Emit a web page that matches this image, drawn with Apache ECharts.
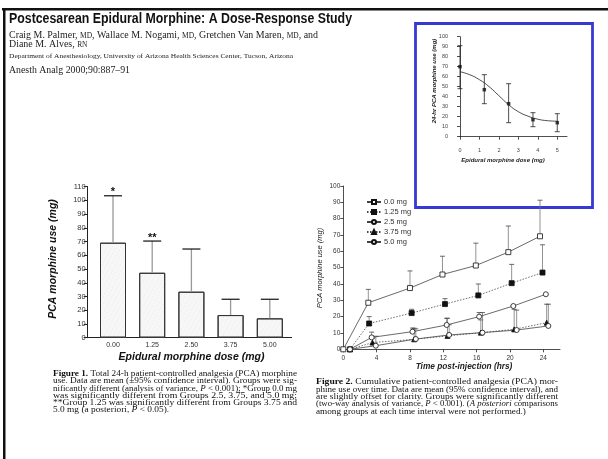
<!DOCTYPE html>
<html><head><meta charset="utf-8">
<script src="https://cdn.jsdelivr.net/npm/echarts@6/dist/echarts.min.js"></script>
<style>html,body{margin:0;padding:0;background:#fff}#c{width:608px;height:459px}</style>
</head><body><div id="c"></div>
<script>
// ---------- data ----------
const insetDoses = [0, 1.25, 2.5, 3.75, 5];
const insetMeans = [70, 47, 33, 17, 14];
const insetLow = [48, 33, 14, 10, 5];
const insetHigh = [91, 62, 53, 24, 23];
const insetCurveX = [0, 0.5, 1, 1.5, 2, 2.5, 3, 3.5, 4, 4.5, 5];
const insetCurveY = [65, 62, 57, 50, 41, 32, 25, 20.5, 17.5, 16, 15.5];
const insetXTicks = [0, 1, 2, 3, 4, 5];

const barCategories = ['0.00', '1.25', '2.50', '3.75', '5.00'];
const barMeans = [69.2, 47.3, 33.5, 16.5, 14.1];
const barUpper = [103.4, 70.4, 64.6, 28, 28];
const barMarks = ['*', '**', '', '', ''];

const seriesNames = ['0.0 mg', '1.25 mg', '2.5 mg', '3.75 mg', '5.0 mg'];
const hours00 = [0, 3.0, 8.0, 11.9, 15.9, 19.8, 23.6];
const use00 = [0, 28.5, 37.5, 45.8, 51.3, 59.5, 69.2];
const upper00 = [null, 36.7, 48, 57, 65, 75.5, 91.3];
const hours125 = [0.8, 3.1, 8.2, 12.2, 16.2, 20.2, 23.9];
const use125 = [0, 15.8, 22.2, 27.7, 33.0, 40.5, 47.0];
const upper125 = [null, 20, 24.5, 31, 40, 52, 64];
const hours25 = [0.8, 3.4, 8.3, 12.4, 16.3, 20.4, 24.3];
const use25 = [0, 7.3, 10.8, 14.9, 20, 26.5, 33.7];
const upper25 = [null, 10.5, 13, 19, 22.5, 26.5, 33.7];
const hours375 = [0.8, 3.5, 8.5, 12.5, 16.5, 20.5, 24.4];
const use375 = [0, 4.1, 6.1, 8.2, 10.2, 12.2, 16.3];
const upper375 = [null, 6.7, 12.9, 19, 18, 24.5, 27.6];
const hours50 = [0.8, 3.9, 8.7, 12.7, 16.7, 20.8, 24.6];
const use50 = [0, 2.2, 6.3, 8.8, 10.2, 11.8, 14.3];
const upper50 = [null, 8, 12.5, 15, 22.5, 24, 27.6];
const lineXTicks = [0, 4, 8, 12, 16, 20, 24];

// ---------- helpers ----------
const SANS = '"Liberation Sans", Arial, sans-serif';
const SERIF = '"Liberation Serif", "Times New Roman", serif';
const mctx = document.createElement('canvas').getContext('2d');
function tw(str, font) { mctx.font = font; return mctx.measureText(str).width; }

const capFontSize = 8.2;
const capStyles = {
  r: { fontFamily: SERIF, fontSize: capFontSize, fontWeight: 'normal', fontStyle: 'normal', fill: '#111', verticalAlign: 'bottom', lineHeight: 9 },
  b: { fontFamily: SERIF, fontSize: capFontSize, fontWeight: 'bold', fontStyle: 'normal', fill: '#111', verticalAlign: 'bottom', lineHeight: 9 },
  i: { fontFamily: SERIF, fontSize: capFontSize, fontWeight: 'normal', fontStyle: 'italic', fill: '#111', verticalAlign: 'bottom', lineHeight: 9 }
};
function segWidth(segs, styles) {
  let w = 0;
  segs.forEach(s => { const st = styles[s[1]]; w += tw(s[0], `${st.fontStyle} ${st.fontWeight} ${st.fontSize}px ${st.fontFamily}`); });
  return w;
}
function richText(segs) { return segs.map(s => `{${s[1]}|${s[0]}}`).join(''); }
function paragraph(lines, x, ys, target, styles) {
  const widths = lines.map(l => segWidth(l, styles));
  const scales = widths.map(w => target / w);
  const avg = scales.slice(0, -1).reduce((a, b) => a + b, 0) / (scales.length - 1);
  return lines.map((l, k) => ({
    type: 'text', x: x, y: ys[k], scaleX: k === lines.length - 1 ? avg : scales[k],
    style: { text: richText(l), rich: styles, align: 'left', verticalAlign: 'middle' }
  }));
}

const fig1Lines = [
  [['Figure 1.', 'b'], [' Total 24-h patient-controlled analgesia (PCA) morphine', 'r']],
  [['use. Data are mean (\u00b195% confidence interval). Groups were sig-', 'r']],
  [['nificantly different (analysis of variance, ', 'r'], ['P', 'i'], [' < 0.001); *Group 0.0 mg', 'r']],
  [['was significantly different from Groups 2.5, 3.75, and 5.0 mg;', 'r']],
  [['**Group 1.25 was significantly different from Groups 3.75 and', 'r']],
  [['5.0 mg (a posteriori, ', 'r'], ['P', 'i'], [' < 0.05).', 'r']]
];
const fig2Lines = [
  [['Figure 2.', 'b'], [' Cumulative patient-controlled analgesia (PCA) mor-', 'r']],
  [['phine use over time. Data are mean (95% confidence interval), and', 'r']],
  [['are slightly offset for clarity. Groups were significantly different', 'r']],
  [['(two-way analysis of variance, ', 'r'], ['P', 'i'], [' < 0.001). (', 'r'], ['A posteriori', 'i'], [' comparisons', 'r']],
  [['among groups at each time interval were not performed.)', 'r']]
];

const headStyles = {
  r: { fontFamily: SERIF, fontSize: 10, fontWeight: 'normal', fontStyle: 'normal', fill: '#222', verticalAlign: 'bottom', lineHeight: 11 },
  s: { fontFamily: SERIF, fontSize: 7.5, fontWeight: 'normal', fontStyle: 'normal', fill: '#222', verticalAlign: 'bottom', lineHeight: 11 }
};
const authors1 = [['Craig M. Palmer, ', 'r'], ['MD', 's'], [', Wallace M. Nogami, ', 'r'], ['MD', 's'], [', Gretchen Van Maren, ', 'r'], ['MD', 's'], [', and', 'r']];
const authors2 = [['Diane M. Alves, ', 'r'], ['RN', 's']];
const authScale = 309 / segWidth(authors1, headStyles);

const titleText = 'Postcesarean Epidural Morphine: A Dose-Response Study';
const titleFont = `bold 14px ${SANS}`;
const deptText = 'Department of Anesthesiology, University of Arizona Health Sciences Center, Tucson, Arizona';
const deptFont = `7px ${SERIF}`;
const citeText = 'Anesth Analg 2000;90:887\u201391';
const citeFont = `10px ${SERIF}`;

// error bar renderer
function errBar(capW, lineColor, capColor, lw, bothCaps, marks) {
  return function (params, api) {
    const x = api.value(0), lo = api.value(1), hi = api.value(2);
    const a = api.coord([x, lo]), b = api.coord([x, hi]);
    const ch = [
      { type: 'line', shape: { x1: a[0], y1: a[1], x2: b[0], y2: b[1] }, style: { stroke: lineColor, lineWidth: lw } },
      { type: 'line', shape: { x1: b[0] - capW / 2, y1: b[1], x2: b[0] + capW / 2, y2: b[1] }, style: { stroke: capColor, lineWidth: lw } }
    ];
    if (bothCaps) ch.push({ type: 'line', shape: { x1: a[0] - capW / 2, y1: a[1], x2: a[0] + capW / 2, y2: a[1] }, style: { stroke: capColor, lineWidth: lw } });
    if (marks && marks[params.dataIndex]) ch.push({ type: 'text', style: { text: marks[params.dataIndex], x: b[0], y: b[1] + 2, align: 'center', verticalAlign: 'bottom', font: `bold 11px ${SANS}`, fill: '#111' } });
    return { type: 'group', children: ch };
  };
}

const axisCol = '#222';
function valAxis(extra) {
  return Object.assign({
    type: 'value', splitLine: { show: false },
    axisLine: { show: true, lineStyle: { color: axisCol, width: 1 } },
    axisTick: { show: true, inside: false, length: 3, lineStyle: { color: axisCol, width: 1 } },
    axisLabel: { color: '#333', fontFamily: SANS }
  }, extra);
}

const lineSets = [
  { h: hours00, u: use00, up: upper00, sym: 'rect', fill: '#fff', dash: 'solid' },
  { h: hours125, u: use125, up: upper125, sym: 'rect', fill: '#111', dash: [1.5, 1.5] },
  { h: hours25, u: use25, up: upper25, sym: 'circle', fill: '#fff', dash: 'solid' },
  { h: hours375, u: use375, up: upper375, sym: 'triangle', fill: '#111', dash: [1.5, 1.5] },
  { h: hours50, u: use50, up: upper50, sym: 'circle', fill: '#fff', dash: 'solid' }
];

const series = [];
// inset
series.push({ type: 'line', xAxisIndex: 0, yAxisIndex: 0, smooth: 0.5, symbol: 'none', data: insetCurveX.map((x, i) => [x, insetCurveY[i]]), lineStyle: { color: '#222', width: 0.8 }, silent: true });
series.push({ type: 'custom', xAxisIndex: 0, yAxisIndex: 0, renderItem: errBar(5, '#222', '#222', 0.8, true), data: insetDoses.map((d, i) => [d, insetLow[i], insetHigh[i]]), silent: true });
series.push({ type: 'scatter', xAxisIndex: 0, yAxisIndex: 0, symbol: 'rect', symbolSize: 3.5, itemStyle: { color: '#111' }, data: insetDoses.map((d, i) => [d, insetMeans[i]]), silent: true });
// bars
series.push({ type: 'bar', xAxisIndex: 1, yAxisIndex: 1, barWidth: 26, data: barMeans,
  itemStyle: { color: '#f7f7f7', borderColor: '#333', borderWidth: 1,
    decal: { symbol: 'rect', symbolSize: 0.6, dashArrayX: [1, 3], dashArrayY: [1, 2], rotation: 0.5, color: 'rgba(120,120,120,0.35)' } },
  silent: true });
series.push({ type: 'custom', xAxisIndex: 1, yAxisIndex: 1, renderItem: errBar(18, '#999', '#222', 1.3, false, barMarks), data: barMeans.map((m, i) => [i, m, barUpper[i]]), z: 3, silent: true });
// lines
lineSets.forEach((s, k) => {
  series.push({ type: 'custom', xAxisIndex: 3, yAxisIndex: 3, renderItem: errBar(5, '#777', '#444', 0.8, false),
    data: s.h.map((h, i) => [h, s.u[i], s.up[i]]).filter(d => d[2] !== null), silent: true, z: 1 });
});
lineSets.forEach((s, k) => {
  series.push({ type: 'line', name: seriesNames[k], xAxisIndex: 3, yAxisIndex: 3, symbol: s.sym, symbolSize: 5, showAllSymbol: true,
    data: s.h.map((h, i) => [h, s.u[i]]), lineStyle: { color: '#444', width: 0.8, type: s.dash },
    itemStyle: { color: s.fill, borderColor: '#111', borderWidth: 0.8 }, z: 3, silent: true });
});

const graphics = [
  { type: 'rect', shape: { x: 2, y: 8, width: 606, height: 2.5 }, style: { fill: '#111' } },
  { type: 'rect', shape: { x: 3, y: 8, width: 2.5, height: 451 }, style: { fill: '#111' } },
  { type: 'rect', shape: { x: 415.5, y: 23.5, width: 177, height: 184 }, style: { fill: 'none', stroke: '#3838d2', lineWidth: 2.8 } },
  { type: 'text', x: 9, y: 19, scaleX: 343 / tw(titleText, titleFont), style: { text: titleText, font: titleFont, fill: '#111', align: 'left', verticalAlign: 'middle' } },
  { type: 'text', x: 9, y: 34.5, scaleX: authScale, style: { text: richText(authors1), rich: headStyles, align: 'left', verticalAlign: 'middle' } },
  { type: 'text', x: 9, y: 44, scaleX: authScale, style: { text: richText(authors2), rich: headStyles, align: 'left', verticalAlign: 'middle' } },
  { type: 'text', x: 9, y: 56.5, scaleX: 284 / tw(deptText, deptFont), style: { text: deptText, font: deptFont, fill: '#222', align: 'left', verticalAlign: 'middle' } },
  { type: 'text', x: 9, y: 70.5, scaleX: 121 / tw(citeText, citeFont), style: { text: citeText, font: citeFont, fill: '#222', align: 'left', verticalAlign: 'middle' } },
  // axis titles
  { type: 'text', x: 434, y: 81, rotation: Math.PI / 2, style: { text: '24-hr PCA morphine use (mg)', font: `italic bold 6px ${SANS}`, fill: '#222', align: 'center', verticalAlign: 'middle' } },
  { type: 'text', x: 503, y: 160, style: { text: 'Epidural morphine dose (mg)', font: `italic bold 6px ${SANS}`, fill: '#222', align: 'center', verticalAlign: 'middle' } },
  { type: 'text', x: 53.5, y: 259, rotation: Math.PI / 2, style: { text: 'PCA morphine use (mg)', font: `italic bold 10.5px ${SANS}`, fill: '#111', align: 'center', verticalAlign: 'middle' } },
  { type: 'text', x: 191.5, y: 357.5, style: { text: 'Epidural morphine dose (mg)', font: `italic bold 10.5px ${SANS}`, fill: '#111', align: 'center', verticalAlign: 'middle' } },
  { type: 'text', x: 320, y: 268, rotation: Math.PI / 2, style: { text: 'PCA morphine use (mg)', font: `italic 7.5px ${SANS}`, fill: '#222', align: 'center', verticalAlign: 'middle' } },
  { type: 'text', x: 464, y: 366.5, style: { text: 'Time post-injection (hrs)', font: `italic bold 8.3px ${SANS}`, fill: '#222', align: 'center', verticalAlign: 'middle' } }
].concat(
  paragraph(fig1Lines, 53, [373.3, 380.7, 388, 395.3, 402.5, 409.8], 244, capStyles),
  paragraph(fig2Lines, 316, [381.7, 389, 396.3, 403.6, 411], 242, capStyles)
);

const option = {
  animation: false,
  backgroundColor: '#fff',
  textStyle: { fontFamily: SANS },
  grid: [
    { left: 460, top: 36.7, width: 107, height: 100 },
    { left: 93.4, top: 186.7, width: 196, height: 151 },
    { left: 87.7, top: 186.7, width: 204, height: 151 },
    { left: 343.3, top: 186, width: 216.7, height: 163.3 }
  ],
  xAxis: [
    valAxis({ gridIndex: 0, min: 0, max: 5.5, offset: 8,
      axisLine: { show: true, lineStyle: { color: axisCol, width: 0.8 } },
      axisTick: { show: true, length: 3, customValues: insetXTicks, lineStyle: { color: axisCol, width: 0.8 } },
      axisLabel: { customValues: insetXTicks, fontSize: 5.5, color: '#444', margin: 3 } }),
    { gridIndex: 1, type: 'category', data: barCategories, axisLine: { show: false }, axisTick: { show: false },
      axisLabel: { fontSize: 7, color: '#333', margin: 4, fontFamily: SANS } },
    { gridIndex: 2, type: 'value', min: 0, max: 1, axisLine: { show: true, lineStyle: { color: axisCol, width: 1 } },
      axisTick: { show: false }, axisLabel: { show: false }, splitLine: { show: false } },
    valAxis({ gridIndex: 3, min: 0, max: 26, offset: 1.4,
      axisLine: { show: true, lineStyle: { color: axisCol, width: 0.8 } },
      axisTick: { show: true, length: 3, customValues: lineXTicks, lineStyle: { color: axisCol, width: 0.8 } },
      axisLabel: { customValues: lineXTicks, fontSize: 6.5, color: '#333', margin: 4 } })
  ],
  yAxis: [
    valAxis({ gridIndex: 0, min: 0, max: 100, interval: 10, offset: 10,
      axisLine: { show: true, lineStyle: { color: axisCol, width: 0.8 } },
      axisTick: { show: true, length: 3, lineStyle: { color: axisCol, width: 0.8 } },
      axisLabel: { fontSize: 5.5, color: '#444', margin: 2 } }),
    valAxis({ gridIndex: 1, min: 0, max: 110, interval: 10, offset: 5.7,
      axisTick: { show: true, length: 4, lineStyle: { color: axisCol, width: 1 } },
      axisLabel: { fontSize: 7.5, color: '#333', margin: 2 } }),
    { gridIndex: 2, type: 'value', min: 0, max: 1, show: false },
    valAxis({ gridIndex: 3, min: 0, max: 100, interval: 10, offset: 1,
      axisLine: { show: true, lineStyle: { color: axisCol, width: 0.8 } },
      axisTick: { show: true, length: 3, lineStyle: { color: axisCol, width: 0.8 } },
      axisLabel: { fontSize: 6.5, color: '#333', margin: 2 } })
  ],
  legend: {
    data: seriesNames, orient: 'vertical', left: 366, top: 198, padding: 0,
    itemWidth: 14, itemHeight: 5, itemGap: 2,
    textStyle: { fontSize: 7.5, color: '#333', fontFamily: SANS, padding: [0, 0, 0, -2] },
    selectedMode: false
  },
  series: series,
  graphic: graphics
};

const chart = echarts.init(document.getElementById('c'), null, { renderer: 'canvas', width: 608, height: 459 });
chart.setOption(option);
</script>
</body></html>
